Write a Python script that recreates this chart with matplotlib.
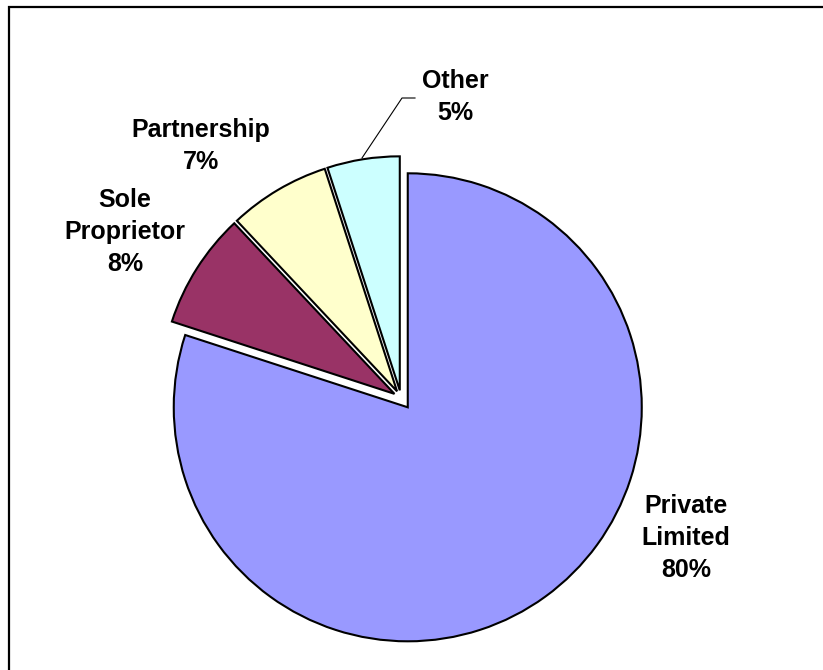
import matplotlib.pyplot as plt
from matplotlib.patches import Rectangle

# data
labels = ['Private\nLimited', 'Sole\nProprietor', 'Partnership', 'Other']
shares = [80, 8, 7, 5]
colors = ['#9999FF', '#993366', '#FFFFCC', '#CCFFFF']

W, H = 823, 670
fig = plt.figure(figsize=(W / 100, H / 100), dpi=100)
ax = fig.add_axes([0, 0, 1, 1])

# pie laid out in pixel coords (y up)
cx, cy, r = 401, H - 398, 234
ax.pie(shares, colors=colors, startangle=90, counterclock=False,
       center=(cx, cy), radius=r, explode=[11.5, 7.75, 7.75, 7.75],
       wedgeprops=dict(edgecolor='black', linewidth=1.5))

ax.set_xlim(0, W)
ax.set_ylim(0, H)
ax.set_aspect('equal')
ax.axis('off')

# label positions (image px)
label_pos = [(686, 538), (125, 232), (201, 146), (455, 97)]
for lab, val, (lx, ly) in zip(labels, shares, label_pos):
    ax.text(lx, H - ly, f"{lab}\n{val}%", ha='center', va='center',
            multialignment='center', linespacing=1.43,
            fontsize=18, fontweight='bold', family='Liberation Sans')

# leader line for "Other"
ax.plot([415, 402, 362], [H - 98, H - 98, H - 158], color='black', lw=0.8)

# outer frame
ax.add_patch(Rectangle((9, -20), 900, H - 6.5 + 20, fill=False,
                       edgecolor='black', linewidth=1.6, clip_on=False))

fig.savefig('out.png', dpi=100)
